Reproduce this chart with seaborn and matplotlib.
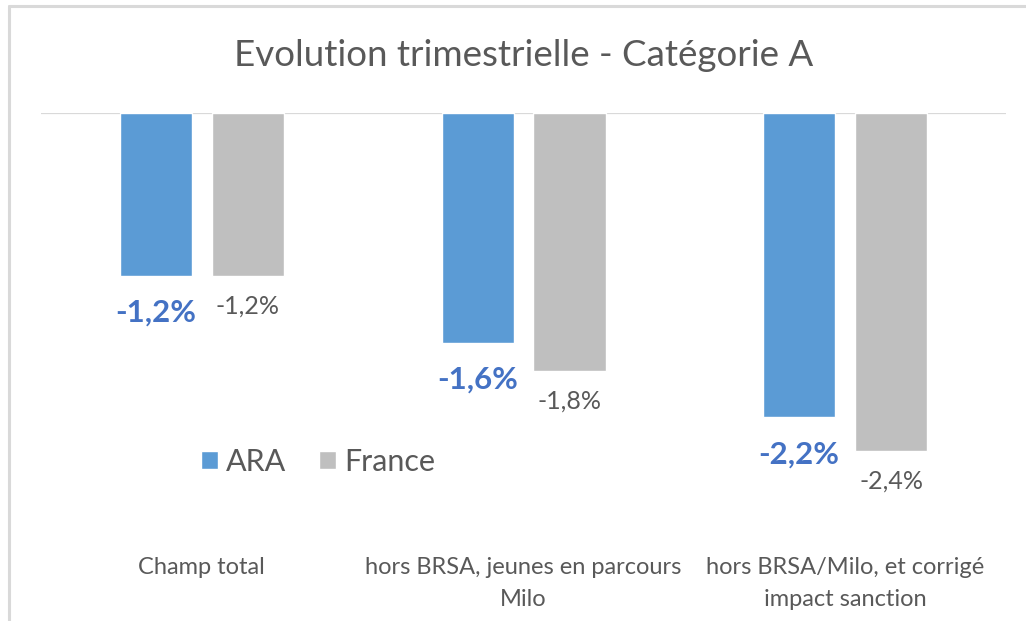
import matplotlib
matplotlib.use("Agg")
import matplotlib.pyplot as plt
from matplotlib.lines import Line2D
import seaborn as sns
import pandas as pd

# data (labels are rounded to 1 decimal)
categories = ["Champ total",
              "hors BRSA, jeunes en parcours\nMilo",
              "hors BRSA/Milo, et corrigé\nimpact sanction"]
series = ["ARA", "France"]
ara_vals = [-1.16, -1.64, -2.17]
france_vals = [-1.16, -1.84, -2.41]
ara_labels = ["-1,2%", "-1,6%", "-2,2%"]
france_labels = ["-1,2%", "-1,8%", "-2,4%"]

BLUE = "#5B9BD5"
GREY = "#BFBFBF"
TXT = "#595959"

sns.set_style("white")
plt.rcParams["font.family"] = ["Lato", "DejaVu Sans"]

df = pd.DataFrame({
    "cat": categories * 2,
    "serie": ["ARA"] * 3 + ["France"] * 3,
    "val": ara_vals + france_vals,
})

fig = plt.figure(figsize=(10.26, 6.21), dpi=100)
ax = fig.add_axes([0.040, 0.1224, 0.9405, 0.6956])

sns.barplot(data=df, x="cat", y="val", hue="serie", hue_order=series,
            order=categories, palette=[BLUE, GREY], saturation=1,
            width=0.572, gap=0.217, ax=ax, legend=True)

ax.set_ylim(-3.08, 0)
ax.axhline(0, color="#D9D9D9", lw=1.6, zorder=0)
sns.despine(ax=ax, left=True, bottom=True)
ax.set_yticks([])
ax.set_xlabel(""); ax.set_ylabel("")
ax.set_xticks(range(len(categories)))
ax.set_xticklabels(categories, fontsize=17, color=TXT, linespacing=1.6)
ax.tick_params(axis="x", length=0, pad=9)

# data labels
for cont, labs, col, off, fs, fw in [
        (ax.containers[0], ara_labels, "#4472C4", -37, 22.5, "bold"),
        (ax.containers[1], france_labels, TXT, -30, 18, "normal")]:
    for bar, lab in zip(cont, labs):
        ax.annotate(lab, (bar.get_x() + bar.get_width() / 2, bar.get_height()),
                    xytext=(0, off), textcoords="offset pixels",
                    ha="center", va="center", color=col, fontsize=fs, fontweight=fw)

leg = ax.legend(loc="center", bbox_to_anchor=(0.31, 0.256),
                bbox_transform=fig.transFigure, ncol=2, frameon=False,
                fontsize=22, handlelength=0.55, handleheight=0.55,
                handletextpad=0.25, columnspacing=1.1)
for t in leg.get_texts():
    t.set_color(TXT)

fig.text(0.51, 0.911, "Evolution trimestrielle - Catégorie A",
         ha="center", va="center", fontsize=26.5, color=TXT)

# light frame (top and left edges visible)
fig.add_artist(Line2D([9 / 1026, 9 / 1026], [0, 1 - 6 / 621],
                      transform=fig.transFigure, color="#D9D9D9", lw=2.2))
fig.add_artist(Line2D([9 / 1026, 1], [1 - 6 / 621, 1 - 6 / 621],
                      transform=fig.transFigure, color="#D9D9D9", lw=2.2))

fig.savefig("out.png", dpi=100)
